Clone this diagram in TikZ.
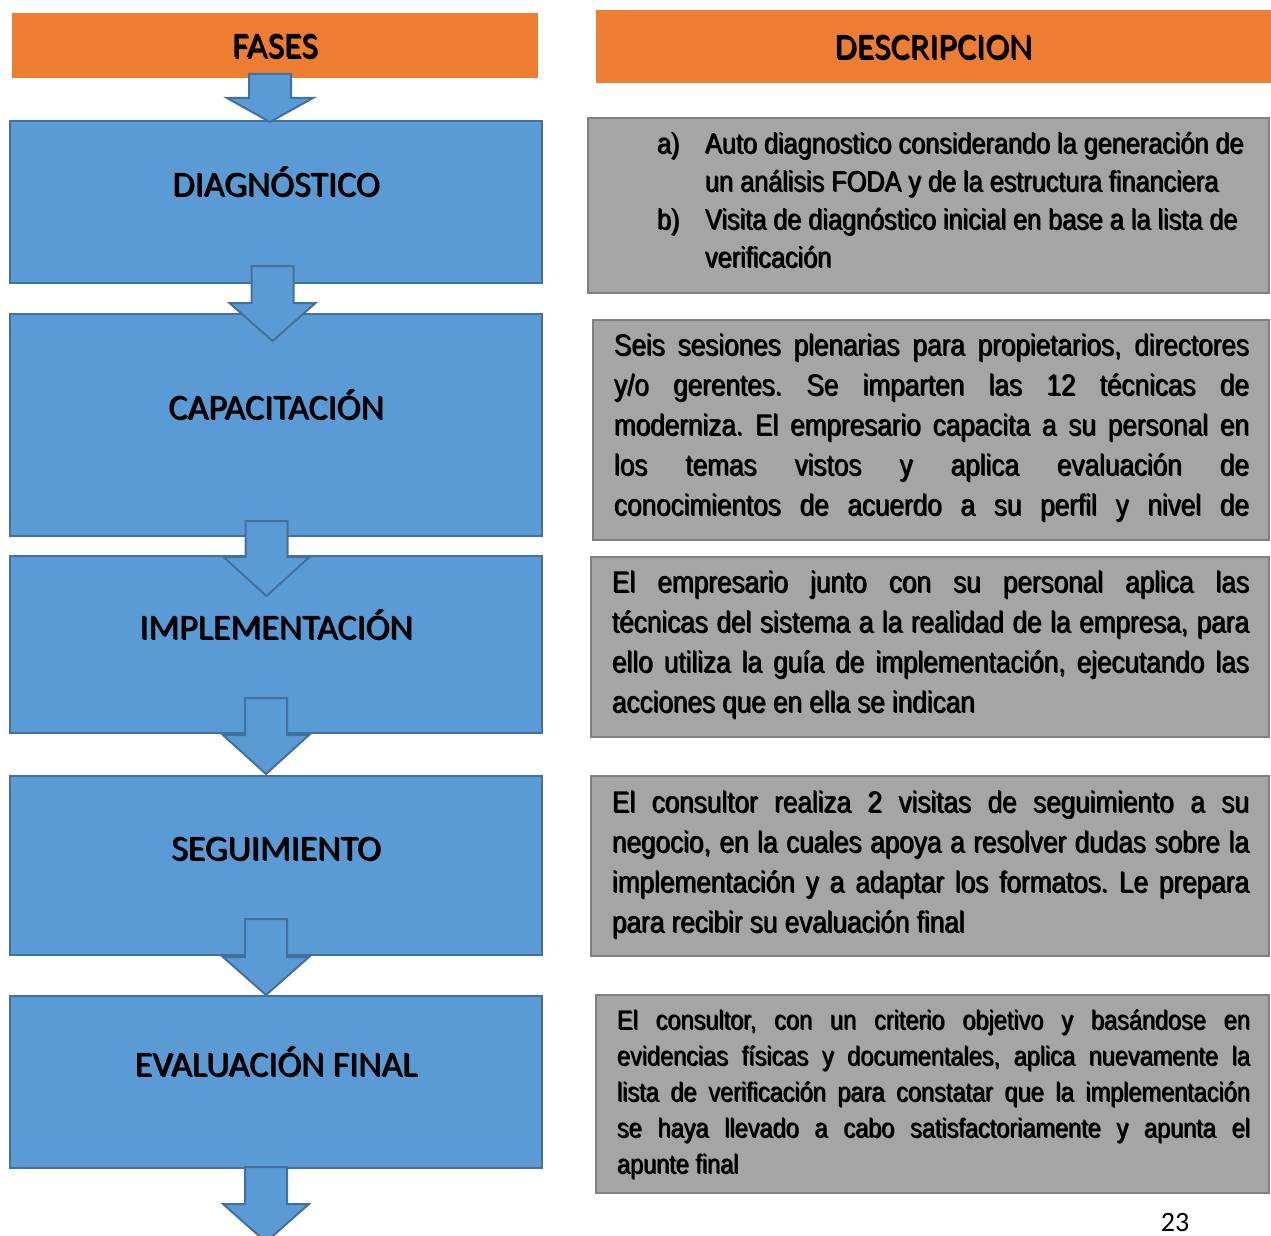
\documentclass[tikz,border=0pt]{standalone}
\usepackage{fontspec}
\setmainfont{Carlito}
\newfontfamily\narrowfont[FakeStretch=0.87]{Liberation Sans}
\usetikzlibrary{calc}
\definecolor{hdrorange}{HTML}{ED7D31}
\definecolor{phaseblue}{HTML}{5B9BD5}
\definecolor{phaseedge}{HTML}{41719C}
\definecolor{descgray}{HTML}{A5A5A5}
\definecolor{descedge}{HTML}{7F7F7F}
\hbadness=10000
\frenchspacing
% text with a soft drop shadow: #1 shadow colour, #2 offset, #3 content
\newsavebox\shbox
\newcommand\shadowed[3]{\sbox\shbox{#3}%
  \makebox[0pt][l]{\hspace*{#2}\raisebox{-#2}{\textcolor{#1}{\usebox\shbox}}}\usebox\shbox}
% block arrow pointing down: axis x, shaft top, head base, tip
\newcommand\downblock[4]{%
  \draw[blockarrow] (#1-21,#2) -- (#1+21,#2) -- (#1+21,#3) -- (#1+43,#3)
    -- (#1,#4) -- (#1-43,#3) -- (#1-21,#3) -- cycle;}
\begin{document}
\begin{tikzpicture}[x=1pt,y=-1pt,
  header/.style={fill=hdrorange, inner sep=0pt, text height=25pt, text depth=0pt,
    font=\fontsize{36}{40}\selectfont},
  phasebox/.style={fill=phaseblue, draw=phaseedge, line width=2pt, inner sep=0pt,
    minimum width=532pt, text height=12pt, text depth=23pt,
    font=\fontsize{36}{40}\selectfont},
  descbox/.style={fill=descgray, draw=descedge, line width=2.5pt, inner sep=0pt},
  desctext/.style={anchor=base west, inner sep=0pt, text=black,
    font=\narrowfont\fontsize{30}{40}\selectfont},
  blockarrow/.style={fill=phaseblue, draw=phaseedge, line width=2pt, line join=miter}
]
\useasboundingbox (0,0) rectangle (1271,1236);

% column headers
\node[header, minimum width=526pt, minimum height=65pt] (fases) at (275,45.5)
  {\shadowed{hdrorange!86!black}{1.3pt}{FASES}};
\node[header, minimum width=675pt, minimum height=73pt] (deschead) at (933.5,46.5)
  {\shadowed{hdrorange!86!black}{1.3pt}{DESCRIPCION}};

% phases
\node[phasebox, minimum height=162pt] (diag) at (276,202)
  {\shadowed{phaseblue!86!black}{1.3pt}{DIAGNÓSTICO}};
\node[phasebox, minimum height=222pt] (capa) at (276,425)
  {\shadowed{phaseblue!86!black}{1.3pt}{CAPACITACIÓN}};
\node[phasebox, minimum height=177pt] (impl) at (276,644.5)
  {\shadowed{phaseblue!86!black}{1.3pt}{IMPLEMENTACIÓN}};
\node[phasebox, minimum height=179pt] (segu) at (276,865.5)
  {\shadowed{phaseblue!86!black}{1.3pt}{SEGUIMIENTO}};
\node[phasebox, minimum height=172pt] (eval) at (276,1082)
  {\shadowed{phaseblue!86!black}{1.3pt}{EVALUACIÓN FINAL}};

% descriptions
\node[descbox, minimum width=681pt, minimum height=175pt] (d1) at (928.5,205.5) {};
\node[descbox, minimum width=676pt, minimum height=220pt] (d2) at (931,430) {};
\node[descbox, minimum width=678pt, minimum height=180pt] (d3) at (930,647) {};
\node[descbox, minimum width=678pt, minimum height=180pt] (d4) at (930,866) {};
\node[descbox, minimum width=673pt, minimum height=198pt] (d5) at (932.5,1094) {};

\node[desctext, font=\narrowfont\fontsize{29}{38}\selectfont] (t1)
  at ($(d1.north west)+(70,37)$)
  {\shadowed{descgray!88!black}{1.2pt}{\parbox[t]{592pt}{%
   \makebox[48pt][l]{a)}Auto diagnostico considerando la generación de\\
   \hspace*{48pt}un análisis FODA y de la estructura financiera\\
   \makebox[48pt][l]{b)}Visita de diagnóstico inicial en base a la lista de\\
   \hspace*{48pt}verificación}}};

\node[desctext] (t2) at ($(d2.north west)+(22,37)$)
  {\shadowed{descgray!88!black}{1.2pt}{\parbox[t]{635pt}{\parfillskip=0pt
   Seis sesiones plenarias para propietarios, directores\linebreak
   y/o gerentes. Se imparten las 12 técnicas de\linebreak
   moderniza. El empresario capacita a su personal en\linebreak
   los temas vistos y aplica evaluación de\linebreak
   conocimientos de acuerdo a su perfil y nivel de}}};

\node[desctext] (t3) at ($(d3.north west)+(22,37)$)
  {\shadowed{descgray!88!black}{1.2pt}{\parbox[t]{637pt}{%
   El empresario junto con su personal aplica las\linebreak
   técnicas del sistema a la realidad de la empresa, para\linebreak
   ello utiliza la guía de implementación, ejecutando las\linebreak
   acciones que en ella se indican}}};

\node[desctext] (t4) at ($(d4.north west)+(22,38)$)
  {\shadowed{descgray!88!black}{1.2pt}{\parbox[t]{637pt}{%
   El consultor realiza 2 visitas de seguimiento a su\linebreak
   negocio, en la cuales apoya a resolver dudas sobre la\linebreak
   implementación y a adaptar los formatos. Le prepara\linebreak
   para recibir su evaluación final}}};

\node[desctext, font=\narrowfont\fontsize{27}{36}\selectfont] (t5)
  at ($(d5.north west)+(22,36)$)
  {\shadowed{descgray!88!black}{1.2pt}{\parbox[t]{633pt}{%
   El consultor, con un criterio objetivo y basándose en\linebreak
   evidencias físicas y documentales, aplica nuevamente la\linebreak
   lista de verificación para constatar que la implementación\linebreak
   se haya llevado a cabo satisfactoriamente y apunta el\linebreak
   apunte final}}};

% flow arrows between the phases
\downblock{270}{74}{98}{122}
\downblock{272.5}{266}{303}{341}
\downblock{266.5}{521}{557}{596}
\downblock{266}{698}{735}{774}
\downblock{266}{919}{957}{995}
\downblock{266}{1167}{1204}{1242}

% page number
\node[anchor=base, inner sep=0pt, font=\fontsize{28}{30}\selectfont] (pagenum)
  at (1175,1231) {23};
\end{tikzpicture}
\end{document}
